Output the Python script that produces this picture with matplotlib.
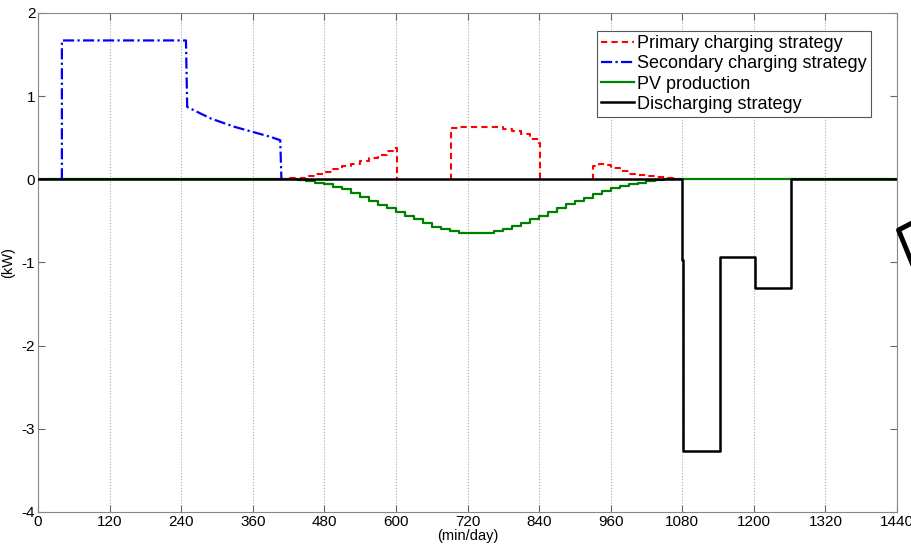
import matplotlib
matplotlib.use("Agg")
import matplotlib.pyplot as plt
from matplotlib.lines import Line2D

plt.rcParams['font.family'] = ['Liberation Sans', 'DejaVu Sans']
plt.rcParams['axes.unicode_minus'] = False

# secondary charging strategy (kW)
sec_t = [40, 40, 248, 250, 270, 290, 310, 330, 350, 370, 390, 406, 408]
sec_p = [0, 1.67, 1.67, 0.87, 0.80, 0.73, 0.68, 0.63, 0.59, 0.55, 0.51, 0.47, 0]

# primary charging strategy, three blocks
pri1_t = [405, 420, 435, 450, 465, 480, 495, 510, 525, 540, 555, 570, 585, 595, 600, 602]
pri1_p = [0, 0.01, 0.02, 0.04, 0.06, 0.09, 0.12, 0.16, 0.19, 0.22, 0.26, 0.29, 0.34, 0.38, 0.38, 0]
pri2_t = [690, 692, 705, 720, 735, 750, 765, 780, 795, 810, 825, 840, 842]
pri2_p = [0, 0.62, 0.63, 0.635, 0.635, 0.63, 0.625, 0.61, 0.58, 0.55, 0.49, 0.44, 0]
pri3_t = [929, 931, 940, 950, 960, 975, 990, 1005, 1020, 1035, 1050, 1065, 1070]
pri3_p = [0, 0.16, 0.19, 0.17, 0.14, 0.10, 0.07, 0.05, 0.035, 0.025, 0.015, 0.005, 0]

# PV production, 15 min steps
pv_t = [0, 405, 420, 435, 450, 465, 480, 495, 510, 525, 540, 555, 570, 585, 600, 615,
        630, 645, 660, 675, 690, 705, 720, 735, 750, 765, 780, 795, 810, 825,
        840, 855, 870, 885, 900, 915, 930, 945, 960, 975, 990, 1005, 1020,
        1035, 1050, 1440]
pv_p = [0, 0, 0.00, -0.01, -0.02, -0.04, -0.06, -0.09, -0.12, -0.16, -0.21, -0.26,
        -0.31, -0.35, -0.39, -0.44, -0.48, -0.53, -0.57, -0.60, -0.62, -0.64,
        -0.645, -0.645, -0.64, -0.62, -0.60, -0.56, -0.52, -0.48, -0.44, -0.39,
        -0.35, -0.30, -0.26, -0.22, -0.18, -0.14, -0.11, -0.08, -0.06, -0.04,
        -0.02, -0.01, 0.00, 0]

# discharging strategy
dis_t = [0, 1080, 1082, 1143, 1202, 1263, 1440]
dis_p = [0, -0.97, -3.27, -0.93, -1.31, 0, 0]

xticks = list(range(0, 1441, 120))
yticks = [-4, -3, -2, -1, 0, 1, 2]

fig = plt.figure(figsize=(9.12, 5.46), dpi=100)
ax = fig.add_axes([0.0417, 0.0623, 0.9419, 0.9139])

ax.plot(pv_t, pv_p, color='#008000', lw=1.6, drawstyle='steps-post', zorder=2,
        label='PV production')
ax.plot(pri1_t, pri1_p, color='red', lw=1.5, ls=(0, (3, 2)), drawstyle='steps-post',
        zorder=3, label='Primary charging strategy')
ax.plot(pri2_t, pri2_p, color='red', lw=1.5, ls=(0, (3, 2)), drawstyle='steps-post', zorder=3)
ax.plot(pri3_t, pri3_p, color='red', lw=1.5, ls=(0, (3, 2)), drawstyle='steps-post', zorder=3)
ax.plot(sec_t, sec_p, color='blue', lw=1.6, ls=(0, (5, 1.5, 1, 1.5)), zorder=3,
        label='Secondary charging strategy')
ax.plot(dis_t, dis_p, color='black', lw=1.8, drawstyle='steps-post', zorder=4,
        label='Discharging strategy')

ax.set_xlim(0, 1440)
ax.set_ylim(-4, 2)
ax.set_xticks(xticks)
ax.set_yticks(yticks)
ax.tick_params(direction='in', length=5, top=True, right=True, labelsize=11, pad=2,
               color='#666666')
ax.grid(axis='x', ls=':', color='#aaaaaa', lw=0.8)
for s in ax.spines.values():
    s.set_color('#888888')
ax.set_xlabel('(min/day)', fontsize=10.5, labelpad=0)
ax.set_ylabel('(kW)', fontsize=10.5)
ax.yaxis.set_label_coords(-0.027, 0.5)

h, l = ax.get_legend_handles_labels()
order = ['Primary charging strategy', 'Secondary charging strategy',
         'PV production', 'Discharging strategy']
hd = dict(zip(l, h))
leg = ax.legend([hd[k] for k in order], order, loc='upper right', fontsize=13,
                fancybox=False, framealpha=1, edgecolor='#555555', handlelength=1.8,
                handletextpad=0.2, borderpad=0.25, labelspacing=0.18,
                bbox_to_anchor=(0.9805, 0.983))
leg.get_frame().set_linewidth(0.8)

# cut-off marker at the right edge of the image
fig.add_artist(Line2D([912 / 912, 898.5 / 912, 912 / 912],
                      [1 - 223 / 546, 1 - 230 / 546, 1 - 263 / 546],
                      transform=fig.transFigure, color='black', lw=3.5))

fig.savefig('out.png', dpi=100)
